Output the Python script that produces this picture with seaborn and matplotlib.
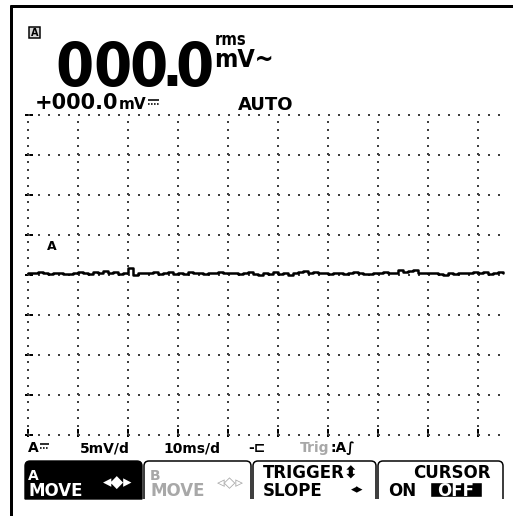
import matplotlib
matplotlib.use("Agg")
import matplotlib.pyplot as plt
import seaborn as sns
from matplotlib import font_manager
from matplotlib.font_manager import FontProperties
from matplotlib.path import Path
from matplotlib.patches import PathPatch, Rectangle

# ============================================
# DATA
# ============================================
time_ms = list(range(0, 96))
trace_mv = [
    0.25, 0.25, 0.4, 0.25, 0.1, 0.25, 0.25, 0.1, 0.1, 0.25,
    0.4, 0.25, 0.1, 0.4, 0.25, 0.5, 0.25, 0.4, 0.1, 0.25,
    0.9, 0.0, 0.25, 0.25, 0.25, 0.4, 0.1, 0.25, 0.4, 0.1,
    0.25, 0.1, 0.4, 0.25, 0.25, 0.1, 0.25, 0.25, 0.4, 0.25,
    0.25, 0.25, 0.1, 0.25, 0.4, 0.1, 0.0, 0.25, 0.1, 0.4,
    0.1, 0.25, 0.0, 0.25, 0.4, 0.5, 0.25, 0.4, 0.25, 0.25,
    0.1, 0.25, 0.25, 0.1, 0.25, 0.4, 0.25, 0.1, 0.1, 0.25,
    0.25, 0.4, 0.25, 0.25, 0.6, 0.4, 0.5, 0.6, 0.25, 0.25,
    0.25, 0.25, 0.1, 0.0, 0.25, 0.1, 0.25, 0.25, 0.25, 0.4,
    0.25, 0.4, 0.1, 0.25, 0.4, 0.25,
]
grid_x_ms = [0, 10, 20, 30, 40, 50, 60, 70, 80, 90]
grid_y_mv = [-20, -15, -10, -5, 0, 5, 10, 15, 20]

main_reading = "000.0"
main_units = ["rms", "mV~"]
dc_reading = "+000.0"
dc_units = "mV"          # followed by the DC symbol (no installed font has it)
range_mode = "AUTO"
status_labels = ["A", "5mV/d", "10ms/d", "-⊏"]
trig_labels = ["Trig", ":A∫"]
softkey_top = ["A", "B", "TRIGGER⬍", "CURSOR"]
softkey_bottom = ["MOVE", "MOVE", "SLOPE", "ON", "OFF"]

# ============================================
# STYLE
# ============================================
sns.set_style("white")
plt.rcParams["font.family"] = ["DejaVu Sans"]
plt.rcParams["font.weight"] = "bold"
plt.rcParams["text.color"] = "black"
plt.rcParams["lines.scale_dashes"] = False


def pick_condensed():
    # look for any installed bold condensed face for the big LCD digits
    best = None
    for f in font_manager.fontManager.ttflist:
        w = f.weight if isinstance(f.weight, int) else font_manager.weight_dict.get(f.weight, 400)
        if "condensed" in str(f.stretch) or "narrow" in f.name.lower():
            if w >= 600 and f.style == "normal":
                if best is None or "extra" in str(f.stretch):
                    best = f
    if best is not None:
        return FontProperties(fname=best.fname)
    return FontProperties(family="Liberation Sans", weight="bold")


big_prop = pick_condensed()

W, H = 513, 516
PX = 72 / 100          # points per pixel at dpi 100
GREY = "#a8a8a8"

fig = plt.figure(figsize=(W / 100, H / 100), dpi=100)
fig.patch.set_facecolor("white")

# background axes in pixel units for the display chrome
bg = fig.add_axes([0, 0, 1, 1])
bg.set_xlim(0, W)
bg.set_ylim(H, 0)
bg.axis("off")


def dc_symbol(x0, y0, width):
    # solid bar over a dashed bar
    bg.plot([x0, x0 + width], [y0, y0], color="black", lw=1.6 * PX, solid_capstyle="butt")
    bg.plot([x0, x0 + width], [y0 + 3.5, y0 + 3.5], color="black", lw=1.6 * PX,
            linestyle=(0, (1.6 * PX, 1.4 * PX)))


# screen frame
bg.plot([10, W], [6, 6], color="black", lw=3 * PX, solid_capstyle="butt")
bg.plot([11, 11], [5, H], color="black", lw=3 * PX, solid_capstyle="butt")

# --- readings ---
bg.add_patch(Rectangle((29, 27), 11, 11, facecolor="#d8d8d8", edgecolor="black", lw=1.5 * PX))
bg.text(34.5, 32.5, "A", fontsize=7, ha="center", va="center")

# big LCD reading: every character sits in its own fixed display cell
cell_x = [75, 112, 149, 171.5, 194]
big_prop.set_size(44)
for ch, cx in zip(main_reading, cell_x):
    bg.text(cx, 86, ch, fontproperties=big_prop, ha="center", va="baseline")

unit_prop = big_prop.copy()
unit_prop.set_size(12)
bg.text(215, 45, main_units[0], fontproperties=unit_prop, va="baseline")
unit_prop2 = big_prop.copy()
unit_prop2.set_size(18)
bg.text(214, 67, main_units[1], fontproperties=unit_prop2, va="baseline")

bg.text(35, 109, dc_reading, fontsize=15, va="baseline")
bg.text(119, 109, dc_units, fontsize=11, va="baseline")
dc_symbol(148, 100, 11)
bg.text(238, 110, range_mode, fontsize=13, va="baseline")

# --- status line ---
for label, x in zip(status_labels, [28, 80, 163, 248]):
    bg.text(x, 452, label, fontsize=10, va="baseline")
dc_symbol(40, 444, 9)
bg.text(300, 452, trig_labels[0], fontsize=10, va="baseline", color=GREY)
bg.text(331, 452, trig_labels[1], fontsize=10, va="baseline")


# --- softkey tabs ---
def tab_path(left, right, top=461, bottom=499, r=5, closed=False):
    verts = [(left, bottom), (left, top + r), (left, top), (left + r, top),
             (right - r, top), (right, top), (right, top + r), (right, bottom)]
    codes = [Path.MOVETO, Path.LINETO, Path.CURVE3, Path.CURVE3,
             Path.LINETO, Path.CURVE3, Path.CURVE3, Path.LINETO]
    if closed:
        verts.append((left, bottom))
        codes.append(Path.CLOSEPOLY)
    return Path(verts, codes)


bg.add_patch(PathPatch(tab_path(25, 142, closed=True), facecolor="black", edgecolor="black"))
for left, right in [(144, 251), (253, 376), (378, 503)]:
    bg.add_patch(PathPatch(tab_path(left, right), facecolor="none", edgecolor="black",
                           lw=1.5 * PX))

bg.text(28, 480, softkey_top[0], fontsize=10, va="baseline", color="white")
bg.text(28, 496, softkey_bottom[0], fontsize=12, va="baseline", color="white")
bg.text(118, 483, "◂◆▸", fontsize=12, ha="center", va="center", color="white")

bg.text(150, 480, softkey_top[1], fontsize=10, va="baseline", color=GREY)
bg.text(150, 496, softkey_bottom[1], fontsize=12, va="baseline", color=GREY)
bg.text(230, 483, "◃◇▹", fontsize=11, ha="center", va="center", color=GREY)

bg.text(263, 478, softkey_top[2], fontsize=12, va="baseline")
bg.text(263, 496, softkey_bottom[2], fontsize=12, va="baseline")
bg.text(357, 490, "◂▸", fontsize=9, ha="center", va="center")

bg.text(452, 478, softkey_top[3], fontsize=12, va="baseline", ha="center")
bg.text(388, 496, softkey_bottom[3], fontsize=12, va="baseline")
bg.add_patch(Rectangle((430, 482), 52, 15, facecolor="black"))
bg.text(456, 496, softkey_bottom[4], fontsize=12, va="baseline", ha="center", color="white")

# ============================================
# SCOPE AREA: 10 ms/div, 5 mV/div
# ============================================
# pixel mapping: x_px = 28 + 5 * ms, y_px = 275 - 8 * mV
x_lim = (-0.6, 95.6)
y_lim = (-20.25, 20.6)
left_px, right_px = 28 + 5 * x_lim[0], 28 + 5 * x_lim[1]
top_px, bottom_px = 275 - 8 * y_lim[1], 275 - 8 * y_lim[0]
ax = fig.add_axes([left_px / W, 1 - bottom_px / H,
                   (right_px - left_px) / W, (bottom_px - top_px) / H])
ax.set_xlim(*x_lim)
ax.set_ylim(*y_lim)
ax.patch.set_alpha(0)
for side in ax.spines.values():
    side.set_visible(False)

ax.hlines(grid_y_mv, 0, 94.4, colors="#404040", lw=2 * PX,
          linestyles=[(0, (2 * PX, 8 * PX))])
ax.vlines(grid_x_ms, -20, 20, colors="#404040", lw=2 * PX,
          linestyles=[(0, (2 * PX, 6 * PX))])

ax.set_xticks(grid_x_ms)
ax.set_yticks(grid_y_mv)
ax.tick_params(axis="y", left=True, direction="in", length=8 * PX, width=2 * PX,
               color="black", labelleft=False)
ax.tick_params(axis="x", bottom=True, direction="in", length=8 * PX, width=2 * PX,
               color="black", labelbottom=False)

sns.lineplot(x=time_ms, y=trace_mv, ax=ax, color="black", lw=1.8,
             estimator=None, drawstyle="steps-post")
ax.set_xlabel("")
ax.set_ylabel("")
ax.text(3.8, 3.1, "A", fontsize=9, va="baseline")

fig.savefig("out.png", dpi=100)
